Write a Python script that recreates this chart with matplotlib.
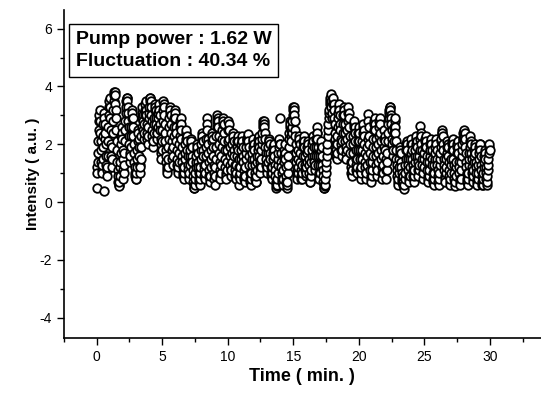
import numpy as np
import matplotlib
matplotlib.use("Agg")
import matplotlib.pyplot as plt
from matplotlib.ticker import MultipleLocator

plt.rcParams['font.family'] = ['Liberation Sans', 'DejaVu Sans']
plt.rcParams['axes.unicode_minus'] = False

# intensity, 20 samples per minute (0.05 min apart)
intensity = [
    # 0 - 1 min
    0.5, 1.0, 1.7, 2.5, 3.0, 2.8, 2.1, 1.4, 1.0, 1.5, 2.3, 3.1, 0.4, 2.7, 2.0, 1.3, 0.9, 1.6, 2.6, 3.3,
    # 1 - 2
    3.6, 2.9, 2.0, 1.2, 1.9, 2.8, 3.5, 3.8, 3.7, 3.2, 2.5, 1.8, 1.1, 0.7, 0.55, 0.9, 1.4, 2.0, 2.6, 2.2,
    # 2 - 3
    1.5, 0.8, 1.3, 2.1, 2.8, 3.3, 3.6, 3.5, 3.1, 2.6, 2.0, 1.4, 1.9, 2.6, 3.2, 2.9, 2.3, 1.7, 1.2, 0.9,
    # 3 - 4
    0.8, 1.2, 1.8, 2.5, 2.2, 1.6, 1.0, 1.5, 2.3, 2.9, 3.3, 2.8, 2.2, 2.7, 3.2, 3.5, 3.0, 2.4, 2.0, 2.6,
    # 4 - 5
    3.1, 3.5, 3.6, 3.3, 2.8, 2.3, 1.9, 2.4, 2.9, 3.4, 3.2, 2.7, 2.2, 2.6, 3.1, 3.4, 3.0, 2.5, 2.0, 1.5,
    # 5 - 6
    2.1, 2.8, 3.5, 3.3, 2.7, 2.1, 1.6, 1.2, 1.0, 1.5, 2.2, 2.9, 3.3, 3.0, 2.4, 1.8, 1.3, 1.9, 2.6, 3.2,
    # 6 - 7
    2.9, 2.4, 1.8, 1.3, 1.0, 1.4, 2.0, 2.6, 2.9, 2.5, 1.9, 1.4, 1.0, 0.8, 1.2, 1.7, 2.2, 2.5, 2.1, 1.6,
    # 7 - 8
    1.1, 0.8, 1.3, 1.8, 2.2, 1.9, 1.4, 0.9, 0.6, 0.5, 0.8, 1.2, 1.6, 2.0, 1.7, 1.2, 0.8, 0.6, 1.0, 1.5,
    # 8 - 9
    2.0, 2.4, 2.1, 1.6, 1.1, 0.8, 1.3, 1.9, 2.9, 2.5, 2.0, 1.4, 0.9, 0.7, 1.2, 1.8, 2.4, 2.2, 1.6, 1.0,
    # 9 - 10
    0.6, 1.2, 1.9, 2.6, 3.0, 2.8, 2.3, 1.7, 1.1, 0.8, 1.3, 1.9, 2.5, 2.9, 2.7, 2.1, 1.5, 1.0, 0.8, 1.4,
    # 10 - 11
    2.1, 2.8, 2.5, 1.9, 1.3, 0.9, 1.4, 2.0, 2.4, 2.1, 1.6, 1.1, 0.8, 1.3, 1.9, 2.3, 1.8, 1.2, 0.6, 1.0,
    # 11 - 12
    1.5, 2.0, 2.3, 1.9, 1.4, 0.9, 0.7, 1.2, 1.7, 2.1, 2.2, 2.35, 1.9, 1.3, 0.8, 0.6, 1.0, 1.5, 1.9, 2.2,
    # 12 - 13
    1.8, 1.3, 0.8, 0.7, 1.1, 1.6, 2.0, 2.3, 1.9, 1.4, 1.0, 1.5, 2.0, 2.4, 2.7, 2.8, 2.6, 2.2, 1.7, 1.3,
    # 13 - 14
    1.0, 1.4, 1.9, 2.2, 2.0, 1.5, 1.0, 0.8, 1.2, 1.7, 2.0, 1.6, 1.1, 0.7, 0.5, 0.6, 1.0, 1.5, 1.9, 2.2,
    # 14 - 15
    2.9, 1.7, 1.2, 0.8, 0.6, 1.1, 1.6, 2.0, 1.5, 0.9, 0.5, 0.7, 1.3, 1.9, 2.4, 2.8, 2.5, 2.1, 2.6, 3.0,
    # 15 - 16
    3.3, 3.2, 2.8, 2.3, 1.7, 1.1, 0.8, 1.2, 1.8, 2.3, 2.0, 1.4, 0.9, 0.8, 1.3, 1.9, 2.3, 1.9, 1.3, 0.9,
    # 16 - 17
    1.2, 1.7, 2.1, 1.8, 1.3, 0.8, 0.7, 1.1, 1.6, 2.0, 2.3, 1.9, 1.4, 1.1, 1.6, 2.2, 2.6, 2.2, 1.6, 1.0,
    # 17 - 18
    0.8, 1.3, 1.8, 2.1, 1.6, 1.1, 0.7, 0.5, 0.55, 0.8, 1.2, 1.6, 2.0, 2.5, 2.9, 3.2, 3.5, 3.75, 3.3, 2.9,
    # 18 - 19
    3.4, 3.6, 3.2, 2.7, 2.2, 1.8, 1.5, 2.0, 2.6, 3.1, 3.4, 3.0, 2.5, 2.0, 1.6, 2.1, 2.7, 3.3, 3.0, 2.4,
    # 19 - 20
    1.9, 1.5, 2.2, 2.8, 3.3, 2.9, 2.3, 1.7, 1.2, 0.9, 1.4, 2.0, 2.6, 2.8, 2.4, 1.8, 1.3, 1.0, 1.5, 2.1,
    # 20 - 21
    2.6, 2.1, 1.5, 0.8, 1.2, 1.8, 2.4, 2.7, 2.3, 1.7, 1.2, 0.8, 1.3, 1.9, 3.05, 2.6, 2.0, 1.4, 0.9, 0.7,
    # 21 - 22
    1.1, 1.6, 2.2, 2.7, 2.9, 2.5, 1.9, 1.3, 0.9, 1.4, 2.0, 2.6, 2.9, 2.4, 1.8, 1.2, 0.8, 1.3, 1.9, 2.5,
    # 22 - 23
    2.1, 1.5, 0.8, 1.4, 2.1, 2.7, 3.1, 3.3, 3.2, 2.9, 2.5, 2.0, 1.6, 2.1, 2.6, 2.9, 2.4, 1.8, 1.3, 0.9,
    # 23 - 24
    0.6, 1.0, 1.5, 1.9, 1.7, 1.2, 0.8, 0.6, 0.9, 0.45, 0.8, 1.3, 1.8, 2.1, 1.8, 1.3, 0.9, 0.7, 1.2, 1.7,
    # 24 - 25
    2.2, 1.8, 1.3, 0.9, 0.7, 1.1, 1.6, 2.0, 2.3, 1.9, 1.4, 0.9, 1.3, 1.8, 2.65, 2.3, 1.8, 1.3, 0.8, 1.2,
    # 25 - 26
    1.7, 2.1, 2.3, 1.9, 1.4, 0.9, 0.7, 1.1, 1.6, 2.0, 2.2, 1.8, 1.3, 0.8, 0.6, 1.0, 1.5, 1.9, 2.2, 1.8,
    # 26 - 27
    1.3, 0.9, 0.6, 1.0, 1.5, 1.9, 2.2, 2.5, 2.3, 1.8, 1.3, 0.9, 0.7, 1.2, 1.7, 2.1, 1.9, 1.4, 0.9, 0.6,
    # 27 - 28
    1.0, 1.5, 2.0, 2.2, 1.8, 1.3, 0.8, 0.55, 0.9, 1.4, 1.9, 2.1, 1.7, 1.2, 0.8, 0.6, 1.1, 1.6, 2.0, 2.4,
    # 28 - 29
    2.1, 2.5, 2.2, 1.7, 1.2, 0.8, 0.6, 1.0, 1.5, 1.9, 2.3, 2.0, 1.5, 1.0, 0.7, 1.1, 1.6, 2.0, 1.7, 1.2,
    # 29 - 30
    0.8, 0.6, 1.0, 1.5, 1.9, 2.0, 1.6, 1.1, 0.7, 0.6, 1.0, 1.4, 1.8, 1.5, 1.0, 0.6, 0.9, 1.3, 1.7, 2.0,
]

# in-between samples, offset by 0.025 min
intensity_mid = [
    1.2, 1.4, 2.1, 2.8, 3.2, 2.4, 1.8, 1.1, 1.3, 1.9, 2.7, 2.9, 2.2, 2.4, 1.6, 1.1, 1.2, 2.1, 3.0, 3.5,
    3.3, 2.5, 1.6, 1.5, 2.4, 3.2, 3.7, 3.8, 3.4, 2.9, 2.1, 1.4, 0.9, 0.6, 0.7, 1.2, 1.7, 2.3, 2.4, 1.8,
    1.1, 1.0, 1.7, 2.5, 3.1, 3.5, 3.6, 3.3, 2.8, 2.3, 1.7, 1.6, 2.3, 2.9, 3.1, 2.6, 2.0, 1.4, 1.0, 0.8,
    1.0, 1.5, 2.1, 2.4, 1.9, 1.3, 1.2, 1.9, 2.6, 3.1, 3.0, 2.5, 2.4, 3.0, 3.4, 3.2, 2.7, 2.2, 2.3, 2.9,
    3.3, 3.6, 3.5, 3.0, 2.5, 2.1, 2.1, 2.7, 3.2, 3.3, 2.9, 2.4, 2.4, 2.9, 3.3, 3.2, 2.7, 2.2, 1.7, 1.8,
    2.5, 3.2, 3.4, 3.0, 2.4, 1.8, 1.4, 1.1, 1.2, 1.9, 2.6, 3.1, 3.2, 2.7, 2.1, 1.5, 1.6, 2.3, 2.9, 3.1,
    2.6, 2.1, 1.5, 1.1, 1.2, 1.7, 2.3, 2.8, 2.7, 2.2, 1.6, 1.2, 0.9, 1.0, 1.5, 2.0, 2.4, 2.3, 1.8, 1.3,
    0.9, 1.0, 1.6, 2.0, 2.1, 1.6, 1.1, 0.7, 0.5, 0.6, 1.0, 1.4, 1.8, 1.9, 1.4, 1.0, 0.7, 0.8, 1.2, 1.8,
    2.2, 2.3, 1.8, 1.3, 0.9, 1.0, 1.6, 2.2, 2.7, 2.2, 1.7, 1.1, 0.8, 0.9, 1.5, 2.1, 2.3, 1.9, 1.3, 0.8,
    0.9, 1.5, 2.3, 2.8, 2.9, 2.6, 2.0, 1.4, 0.9, 1.0, 1.6, 2.2, 2.7, 2.8, 2.4, 1.8, 1.2, 0.9, 1.1, 1.8,
    2.5, 2.7, 2.2, 1.6, 1.1, 1.1, 1.7, 2.2, 2.3, 1.8, 1.3, 0.9, 1.0, 1.6, 2.1, 2.1, 1.5, 0.9, 0.8, 1.2,
    1.8, 2.2, 2.1, 1.6, 1.1, 0.8, 0.9, 1.5, 1.9, 2.2, 2.3, 2.1, 1.6, 1.0, 0.7, 0.8, 1.3, 1.7, 2.1, 2.0,
    1.5, 1.0, 0.7, 0.9, 1.4, 1.8, 2.2, 2.1, 1.6, 1.2, 1.2, 1.8, 2.2, 2.6, 2.8, 2.7, 2.4, 1.9, 1.5, 1.1,
    1.2, 1.7, 2.1, 2.1, 1.7, 1.2, 0.9, 1.0, 1.5, 1.9, 1.8, 1.3, 0.9, 0.6, 0.55, 0.8, 1.3, 1.7, 2.1, 2.0,
    2.0, 1.4, 1.0, 0.7, 0.8, 1.4, 1.8, 1.7, 1.2, 0.7, 0.6, 1.0, 1.6, 2.2, 2.6, 2.7, 2.3, 2.4, 2.8, 3.2,
    3.3, 3.0, 2.5, 2.0, 1.4, 0.9, 1.0, 1.5, 2.1, 2.2, 1.7, 1.1, 0.8, 1.0, 1.6, 2.1, 2.1, 1.6, 1.1, 1.0,
    1.4, 1.9, 2.0, 1.5, 1.0, 0.7, 0.9, 1.4, 1.8, 2.2, 2.1, 1.6, 1.2, 1.3, 1.9, 2.4, 2.4, 1.9, 1.3, 0.9,
    1.0, 1.6, 2.0, 1.9, 1.3, 0.9, 0.6, 0.5, 0.6, 1.0, 1.4, 1.8, 2.3, 2.7, 3.1, 3.4, 3.6, 3.5, 3.1, 3.1,
    3.5, 3.4, 2.9, 2.4, 2.0, 1.6, 1.7, 2.3, 2.9, 3.3, 3.2, 2.7, 2.2, 1.8, 1.8, 2.4, 3.0, 3.2, 2.7, 2.1,
    1.7, 1.8, 2.5, 3.1, 3.1, 2.6, 2.0, 1.4, 1.0, 1.1, 1.7, 2.3, 2.7, 2.6, 2.1, 1.5, 1.1, 1.2, 1.8, 2.4,
    2.4, 1.8, 1.1, 1.0, 1.5, 2.1, 2.6, 2.5, 2.0, 1.4, 1.0, 1.0, 1.6, 2.2, 2.8, 2.3, 1.7, 1.1, 0.8, 0.9,
    1.4, 1.9, 2.5, 2.8, 2.7, 2.2, 1.6, 1.1, 1.1, 1.7, 2.3, 2.8, 2.7, 2.1, 1.5, 1.0, 1.0, 1.6, 2.2, 2.3,
    1.8, 1.1, 1.1, 1.7, 2.4, 2.9, 3.2, 3.3, 3.0, 2.7, 2.2, 1.8, 1.8, 2.4, 2.8, 2.6, 2.1, 1.5, 1.1, 0.7,
    0.8, 1.2, 1.7, 1.8, 1.4, 1.0, 0.7, 0.7, 0.6, 0.6, 1.0, 1.5, 2.0, 2.0, 1.5, 1.1, 0.8, 0.9, 1.5, 2.0,
    2.0, 1.5, 1.1, 0.8, 0.9, 1.4, 1.8, 2.2, 2.1, 1.6, 1.1, 1.1, 1.6, 2.2, 2.4, 2.0, 1.5, 1.0, 1.0, 1.5,
    1.9, 2.2, 2.1, 1.6, 1.1, 0.8, 0.9, 1.4, 1.8, 2.1, 2.0, 1.5, 1.0, 0.7, 0.8, 1.3, 1.7, 2.1, 2.0, 1.5,
    1.1, 0.7, 0.8, 1.3, 1.7, 2.1, 2.4, 2.4, 2.0, 1.5, 1.1, 0.8, 1.0, 1.5, 1.9, 2.0, 1.6, 1.1, 0.7, 0.8,
    1.3, 1.8, 2.1, 2.0, 1.5, 1.0, 0.7, 0.7, 1.2, 1.7, 2.0, 1.9, 1.4, 1.0, 0.7, 0.8, 1.4, 1.8, 2.2, 2.2,
    2.3, 2.4, 1.9, 1.4, 1.0, 0.7, 0.8, 1.3, 1.7, 2.1, 2.1, 1.7, 1.2, 0.8, 0.9, 1.4, 1.8, 1.9, 1.4, 1.0,
    0.7, 0.8, 1.3, 1.7, 2.0, 1.8, 1.3, 0.9, 0.6, 0.8, 1.2, 1.6, 1.7, 1.2, 0.8, 0.7, 1.1, 1.5, 1.9, 1.8,
]

time_min = np.arange(len(intensity)) * 0.05
time_mid = np.arange(len(intensity_mid)) * 0.05 + 0.025

info_lines = ["Pump power : 1.62 W", "Fluctuation : 40.34 %"]

fig = plt.figure(figsize=(5.41, 3.94), dpi=100)
ax = fig.add_axes([0.118, 0.142, 0.882, 0.833])

t_all = np.concatenate([time_min, time_mid])
y_all = np.concatenate([intensity, intensity_mid])
order = np.argsort(t_all)
ax.scatter(t_all[order], y_all[order], s=38, facecolors='white', edgecolors='black',
           linewidths=1.3, zorder=3)

ax.set_xlim(-2.5, 33.9)
ax.set_ylim(-4.7, 6.65)
ax.xaxis.set_major_locator(MultipleLocator(5))
ax.xaxis.set_minor_locator(MultipleLocator(2.5))
ax.yaxis.set_major_locator(MultipleLocator(2))
ax.yaxis.set_minor_locator(MultipleLocator(1))
ax.tick_params(which='major', direction='out', length=5, width=1, labelsize=10)
ax.tick_params(which='minor', direction='out', length=3, width=1)
for side in ['top', 'right']:
    ax.spines[side].set_visible(False)
for side in ['left', 'bottom']:
    ax.spines[side].set_linewidth(1.2)

ax.set_xlabel('Time ( min. )', fontsize=13, fontweight='bold', labelpad=3)
ax.set_ylabel('Intensity ( a.u. )', fontsize=11, fontweight='bold', labelpad=0)

ax.text(0.025, 0.935, "\n".join(info_lines), transform=ax.transAxes,
        ha='left', va='top', fontsize=14, fontweight='bold', linespacing=1.35,
        bbox=dict(boxstyle='square,pad=0.35', facecolor='white', edgecolor='black', linewidth=1))

fig.savefig('out.png', dpi=100)
